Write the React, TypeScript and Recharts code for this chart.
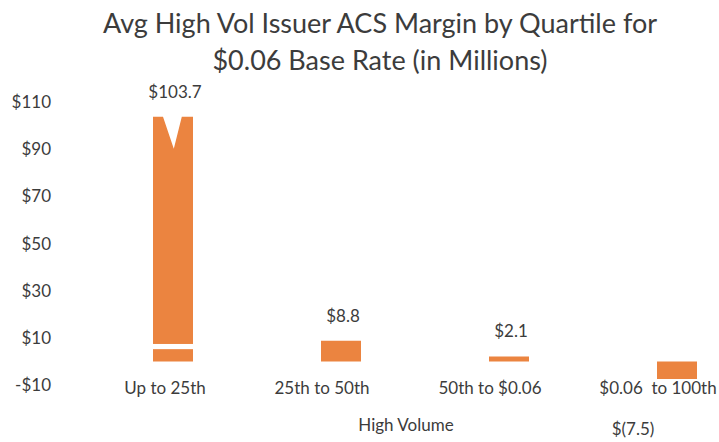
import React from 'react';
import { BarChart, Bar, XAxis, YAxis, LabelList, Rectangle } from 'recharts';

const categories = ['Up to 25th', '25th to 50th', '50th to $0.06', '$0.06  to 100th'];
const margins = [103.7, 8.8, 2.1, -7.5];
const marginLabels = ['$103.7', '$8.8', '$2.1', '$(7.5)'];
const yTicks = [-10, 10, 30, 50, 70, 90, 110];

const data = categories.map((c, i) => ({ name: c, value: margins[i], label: marginLabels[i] }));

const FONT = 'Lato, "Open Sans", sans-serif';
const TEXT = '#3c3c3c';
const ORANGE = '#EB8440';

const fmtY = (v: number) => (v < 0 ? `-$${Math.abs(v)}` : `$${v}`);

const YTick = (props: any) => {
  const { x, y, payload } = props;
  return (
    <text x={x} y={y} dx={-30} dy={6} textAnchor="end" fontFamily={FONT} fontSize={17} fill={TEXT}>
      {fmtY(payload.value)}
    </text>
  );
};

const XTick = (props: any) => {
  const { x, y, payload, index } = props;
  const dx = index === 0 ? -8 : -19;
  return (
    <text x={x + dx} y={y} dy={1} textAnchor="middle" fontFamily={FONT} fontSize={17} fill={TEXT} style={{ whiteSpace: 'pre' }}>
      {payload.value}
    </text>
  );
};

const BarShape = (props: any) => {
  const { x, y, width, height, index, payload, fill } = props;
  if (index !== 0) return <Rectangle x={x} y={y} width={width} height={height} fill={fill} />;
  const ppu = height / payload.value;
  const bottom = y + height;
  const depth = 13.5 * ppu;
  const d = `M${x},${y} L${x + width * 0.25},${y} L${x + width * 0.52},${y + depth} L${x + width * 0.72},${y} L${x + width},${y} L${x + width},${bottom} L${x},${bottom} Z`;
  return (
    <g>
      <path d={d} fill={fill} />
      <rect x={x - 1} y={bottom - 7.4 * ppu} width={width + 2} height={2.2 * ppu} fill="#ffffff" />
    </g>
  );
};

const ValueLabel = (props: any) => {
  const { x, y, width, height, index } = props;
  const text = marginLabels[index];
  const v = margins[index];
  if (v < 0) {
    const b = height < 0 ? y : y + height;
    return (
      <text x={x + width / 2 - 44} y={b + 56} textAnchor="middle" fontFamily={FONT} fontSize={17} fill={TEXT}>
        {text}
      </text>
    );
  }
  return (
    <text x={x + width / 2 + 2} y={y - 19} textAnchor="middle" fontFamily={FONT} fontSize={17} fill={TEXT}>
      {text}
    </text>
  );
};

export default function App() {
  return (
    <div style={{ position: 'absolute', left: 0, top: 0, width: 719, height: 442, overflow: 'hidden', background: '#fff' }}>
      <div style={{ position: 'absolute', left: 0, top: 4, width: 760, textAlign: 'center', fontFamily: FONT, fontSize: 27, lineHeight: '37px', color: TEXT }}>
        Avg High Vol Issuer ACS Margin by Quartile for<br />$0.06 Base Rate (in Millions)
      </div>
      <div style={{ position: 'absolute', left: 0, top: 0 }}>
        <BarChart width={765} height={442} data={data} margin={{ top: 102, right: 4, bottom: 27, left: 0 }}>
          <XAxis dataKey="name" height={30} axisLine={false} tickLine={false} tick={<XTick />} interval={0} />
          <YAxis domain={[-10, 110]} ticks={yTicks} width={89} axisLine={false} tickLine={false} tick={<YTick />} />
          <Bar dataKey="value" fill={ORANGE} barSize={40} isAnimationActive={false} shape={<BarShape />}>
            <LabelList dataKey="label" content={<ValueLabel />} />
          </Bar>
        </BarChart>
      </div>
      <div style={{ position: 'absolute', left: 336, top: 414, width: 140, textAlign: 'center', fontFamily: FONT, fontSize: 17, color: TEXT }}>
        High Volume
      </div>
    </div>
  );
}
